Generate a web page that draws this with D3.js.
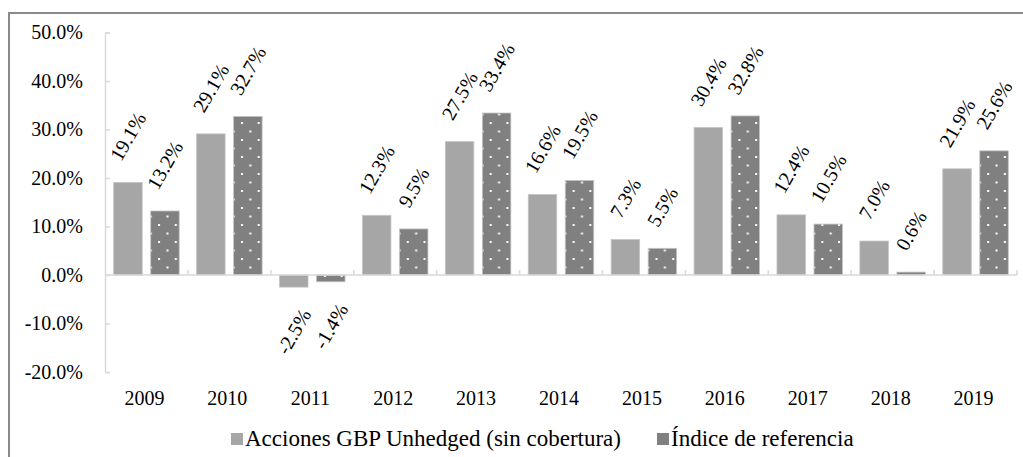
<!DOCTYPE html>
<html>
<head>
<meta charset="utf-8">
<script src="https://cdn.jsdelivr.net/npm/d3@7"></script>
<style>
  body { margin: 0; background: #fff; }
  svg text { font-family: 'Liberation Serif', 'Times New Roman', serif; fill: #000; }
</style>
</head>
<body>
<div id="chart"></div>
<script>
const width = 1023;
const height = 457;

const years = ['2009', '2010', '2011', '2012', '2013', '2014', '2015', '2016', '2017', '2018', '2019'];
const seriesNames = ['Acciones GBP Unhedged (sin cobertura)', 'Índice de referencia'];
const fondo = [19.1, 29.1, -2.5, 12.3, 27.5, 16.6, 7.3, 30.4, 12.4, 7.0, 21.9];
const indice = [13.2, 32.7, -1.4, 9.5, 33.4, 19.5, 5.5, 32.8, 10.5, 0.6, 25.6];
const yTicks = [-20, -10, 0, 10, 20, 30, 40, 50];

const svg = d3
  .select('#chart')
  .append('svg')
  .attr('width', width)
  .attr('height', height);

// dotted fill for the benchmark bars
const pattern = svg
  .append('defs')
  .append('pattern')
  .attr('id', 'dots')
  .attr('patternUnits', 'userSpaceOnUse')
  .attr('width', 16.7)
  .attr('height', 17);
pattern.append('rect').attr('width', 16.7).attr('height', 17).attr('fill', '#808080');
pattern.append('rect').attr('x', 3).attr('y', 3).attr('width', 2).attr('height', 2).attr('fill', '#fff');
pattern.append('rect').attr('x', 11.35).attr('y', 11.5).attr('width', 2).attr('height', 2).attr('fill', '#fff');

// outer frame
svg
  .append('rect')
  .attr('x', 9)
  .attr('y', 13)
  .attr('width', 1100)
  .attr('height', 600)
  .attr('fill', 'none')
  .attr('stroke', '#8a8a8a')
  .attr('stroke-width', 2);

const x = d3.scaleBand().domain(years).range([105, 1017]);
const x1 = d3
  .scaleBand()
  .domain(seriesNames)
  .range([0, x.bandwidth()])
  .paddingInner(0.23)
  .paddingOuter(0.235);
const y = d3.scaleLinear().domain([-20, 50]).range([372, 32.5]);

const colors = ['#a6a6a6', 'url(#dots)'];

// y axis
const yAxis = svg
  .append('g')
  .attr('transform', 'translate(105,0)')
  .call(
    d3
      .axisLeft(y)
      .tickValues(yTicks)
      .tickSize(-5)
      .tickPadding(22)
      .tickFormat((d) => d.toFixed(1) + '%'),
  );
yAxis.select('.domain').attr('stroke', '#d9d9d9').attr('stroke-width', 1.5);
yAxis.selectAll('.tick line').attr('stroke', '#d9d9d9').attr('stroke-width', 1.5);
yAxis.selectAll('.tick text').style('font-size', '20px').attr('fill', '#000');

// bars
const data = years.map((yr, i) => ({ year: yr, values: [fondo[i], indice[i]] }));

const groups = svg
  .selectAll('.year')
  .data(data)
  .enter()
  .append('g')
  .attr('class', 'year')
  .attr('transform', (d) => `translate(${x(d.year)},0)`);

groups
  .selectAll('rect')
  .data((d) => d.values.map((v, k) => ({ key: seriesNames[k], k, v })))
  .enter()
  .append('rect')
  .attr('x', (d) => x1(d.key))
  .attr('width', x1.bandwidth())
  .attr('y', (d) => y(Math.max(0, d.v)))
  .attr('height', (d) => Math.abs(y(d.v) - y(0)))
  .attr('fill', (d) => colors[d.k])
  .attr('stroke', '#c4c4c4')
  .attr('stroke-width', 0.8);

// rotated value labels, centred above (or below) each bar
const gap = 20;
groups
  .selectAll('.lbl')
  .data((d) => d.values.map((v, k) => ({ key: seriesNames[k], k, v })))
  .enter()
  .append('text')
  .attr('class', 'lbl')
  .style('font-size', '20px')
  .attr('text-anchor', 'middle')
  .attr('dominant-baseline', 'central')
  .text((d) => d.v.toFixed(1) + '%')
  .each(function (d) {
    const L = this.getComputedTextLength();
    const h = 14;
    const half = (L * Math.sin(Math.PI / 3) + h * 0.5) / 2;
    const cx = x1(d.key) + x1.bandwidth() / 2;
    const cy = d.v >= 0 ? y(d.v) - gap - half : y(d.v) + gap + half;
    d3.select(this).attr('transform', `translate(${cx},${cy}) rotate(-60)`);
  });

// x axis: baseline, category ticks and labels
svg
  .append('line')
  .attr('x1', x.range()[0])
  .attr('x2', x.range()[1])
  .attr('y1', y(0))
  .attr('y2', y(0))
  .attr('stroke', '#d9d9d9')
  .attr('stroke-width', 1.5);

svg
  .selectAll('.xtick')
  .data(years)
  .enter()
  .append('line')
  .attr('class', 'xtick')
  .attr('x1', (d) => x(d) + x.bandwidth())
  .attr('x2', (d) => x(d) + x.bandwidth())
  .attr('y1', y(0))
  .attr('y2', y(0) - 5)
  .attr('stroke', '#d9d9d9')
  .attr('stroke-width', 1.5);

svg
  .selectAll('.xlabel')
  .data(years)
  .enter()
  .append('text')
  .attr('class', 'xlabel')
  .attr('x', (d) => x(d) + x.bandwidth() / 2 - 2)
  .attr('y', 405)
  .attr('text-anchor', 'middle')
  .style('font-size', '20px')
  .text((d) => d);

// legend
const legend = svg.append('g').attr('transform', 'translate(231,0)');
let lx = 0;
seriesNames.forEach((name, k) => {
  legend
    .append('rect')
    .attr('x', lx)
    .attr('y', 433)
    .attr('width', 12)
    .attr('height', 12)
    .attr('fill', k === 0 ? '#a6a6a6' : '#808080');
  const t = legend
    .append('text')
    .attr('x', lx + 14)
    .attr('y', 446)
    .style('font-size', '23px')
    .text(name);
  lx += 14 + t.node().getComputedTextLength() + 36;
});
</script>
</body>
</html>
